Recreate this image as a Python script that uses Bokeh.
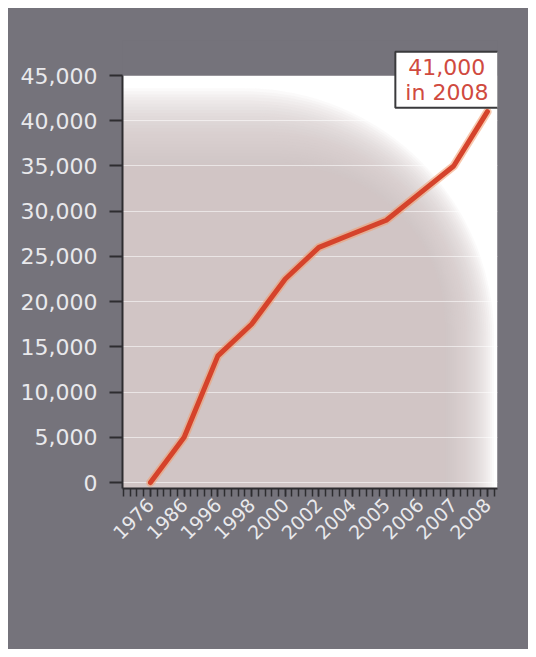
import math
from bokeh.plotting import figure
from bokeh.models import Range1d, FixedTicker, NumeralTickFormatter, BoxAnnotation, Label
from bokeh.embed import file_html
from bokeh.resources import INLINE

# ---- data ----
categories = ["1976", "1986", "1996", "1998", "2000", "2002",
              "2004", "2005", "2006", "2007", "2008"]
values = [0, 5000, 14000, 17500, 22500, 26000, 27500, 29000, 32000, 35000, 41000]
y_ticks = [0, 5000, 10000, 15000, 20000, 25000, 30000, 35000, 40000, 45000]

BG = "#75737b"
DARK = "#2e2d30"
LABEL_COL = "#e9e9ec"
FONT = "DejaVu Sans"

xs = list(range(len(categories)))
y_lo, y_hi, y_top = -660, y_ticks[-1], 48870
x_lo, x_hi = -0.83, 10.3

p = figure(frame_width=375, frame_height=448,
           min_border_left=114, min_border_right=31,
           min_border_top=32, min_border_bottom=161,
           x_range=Range1d(x_lo, x_hi), y_range=Range1d(y_lo, y_top),
           output_backend="svg", toolbar_location=None,
           background_fill_color=BG, border_fill_color=BG,
           outline_line_color=None)
p.margin = (8, 8, 8, 8)
p.styles = {"background-color": BG}

# white plotting panel up to the top of the value scale
p.add_layout(BoxAnnotation(left=x_lo, right=x_hi, bottom=y_lo, top=y_hi,
                           fill_color="white", fill_alpha=1.0, line_color=None,
                           level="image"))

# soft grey vignette (white toward the top-right corner)
n = 26
for i in range(n):
    t = i / (n - 1)
    top = 43600 - t * (43600 - 35000)
    right = 10.2 - t * (10.2 - 8.75)
    r = int(250 - t * 90)
    p.add_layout(BoxAnnotation(left=x_lo, bottom=y_lo, top=top, right=right,
                               fill_color="#cbc2c7", fill_alpha=0.085,
                               line_color=None, border_radius=(0, r, 0, 0),
                               level="image"))

# cover the seam above the panel
p.add_layout(BoxAnnotation(left=x_lo - 0.2, right=x_hi + 0.2, bottom=y_hi, top=y_top + 800,
                           fill_color=BG, fill_alpha=1.0, line_color=None,
                           level="underlay"))

# grid
p.xgrid.visible = False
p.ygrid.ticker = FixedTicker(ticks=y_ticks[:-1])
p.ygrid.grid_line_color = "white"
p.ygrid.grid_line_alpha = 0.55
p.ygrid.grid_line_width = 1

# y axis
p.yaxis.ticker = FixedTicker(ticks=y_ticks)
p.yaxis.bounds = (y_lo, y_hi)
p.yaxis.formatter = NumeralTickFormatter(format="0,0")
p.yaxis.major_tick_out = 13
p.yaxis.major_tick_in = 0
p.yaxis.minor_tick_line_color = None
p.yaxis.axis_line_color = DARK
p.yaxis.axis_line_width = 2
p.yaxis.major_tick_line_color = DARK
p.yaxis.major_tick_line_width = 2
p.yaxis.major_label_standoff = 12
p.yaxis.major_label_text_font = FONT
p.yaxis.major_label_text_font_size = "22px"
p.yaxis.major_label_text_color = LABEL_COL

# x axis
minor = [round(-0.8 + 0.2 * k, 2) for k in range(56)]
p.xaxis.ticker = FixedTicker(ticks=xs, minor_ticks=minor)
p.xaxis.major_label_overrides = {i: c for i, c in enumerate(categories)}
p.xaxis.major_label_orientation = math.pi / 4
p.xaxis.major_tick_out = 8
p.xaxis.major_tick_in = 0
p.xaxis.minor_tick_out = 8
p.xaxis.minor_tick_in = 0
p.xaxis.axis_line_color = DARK
p.xaxis.axis_line_width = 2
p.xaxis.major_tick_line_color = DARK
p.xaxis.major_tick_line_width = 1.5
p.xaxis.minor_tick_line_color = DARK
p.xaxis.minor_tick_line_width = 1.5
p.xaxis.major_label_standoff = 5
p.xaxis.major_label_text_font = FONT
p.xaxis.major_label_text_font_size = "19px"
p.xaxis.major_label_text_color = LABEL_COL

# line with glow
p.line(xs, values, line_color="#f39a6b", line_width=8.5, line_alpha=0.55,
       line_join="round", line_cap="round")
p.line(xs, values, line_color="#d5432b", line_width=5,
       line_join="round", line_cap="round")

# callout
p.add_layout(Label(x=xs[-1], y=values[-1],
                   text=f"{values[-1]:,}\nin {categories[-1]}",
                   anchor="bottom_right", x_offset=11, y_offset=4,
                   text_align="center", text_font=FONT, text_font_size="22px",
                   text_color="#d04a40", text_line_height=1.0,
                   background_fill_color="white", background_fill_alpha=1.0,
                   border_line_color="#3a3a3c", border_line_width=2,
                   padding=dict(left=10, right=10, top=3, bottom=3)))

open("out.html", "w").write(file_html(p, INLINE))
